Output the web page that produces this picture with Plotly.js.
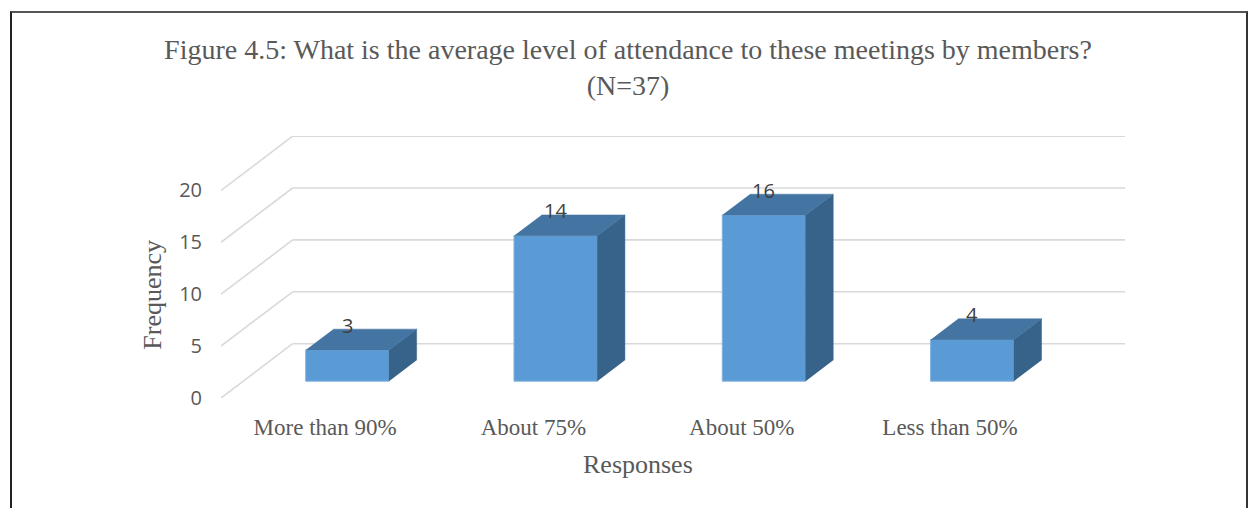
<!DOCTYPE html>
<html>
<head>
<meta charset="utf-8">
<script src="https://cdn.plot.ly/plotly-3.0.1.min.js"></script>
<style>
  html, body { margin: 0; padding: 0; background: #fff; }
  #wrap { position: relative; width: 1248px; height: 508px; overflow: hidden; }
  #chart { position: absolute; left: 0; top: 0; width: 1248px; height: 508px; }
  #frame {
    position: absolute; left: 10px; top: 11px; width: 1234px; height: 520px;
    border-top: 2px solid #555; border-left: 2px solid #222; border-right: 2px solid #333;
    pointer-events: none;
  }
</style>
</head>
<body>
<div id="wrap">
  <div id="chart"></div>
  <div id="frame"></div>
</div>
<script>
// Survey responses: average attendance at meetings (N=37)
const categories = ['More than 90%', 'About 75%', 'About 50%', 'Less than 50%'];
const frequency = [3, 14, 16, 4];
const yTicks = [0, 5, 10, 15, 20];

// Oblique "3-D" projection: a point at depth d (0 = front, 1 = back wall)
// is shifted by d*DX category units and d*DY value units.
const DX = 0.344;
const DY = 5.23;
const HALF = 0.2;            // half bar width, category units
const D0 = 0.31, D1 = 0.695; // bar front / back depth
const XMIN = -0.5, XMAX = categories.length - 0.5;

const serif = 'Liberation Serif, Times New Roman, serif';
const sans = 'Open Sans, Liberation Sans, sans-serif';
const grey = '#595959';

// walls: back-wall horizontals and left-wall diagonals at each tick, kept below the bars
const gridLine = { color: '#D9D9D9', width: 1.6 };
const shapes = [];
yTicks.forEach(t => {
  shapes.push({ type: 'line', xref: 'x', yref: 'y', layer: 'below', line: gridLine,
    x0: XMIN, y0: t, x1: XMIN + DX, y1: t + DY });
  shapes.push({ type: 'line', xref: 'x', yref: 'y', layer: 'below', line: gridLine,
    x0: XMIN + DX, y0: t + DY, x1: XMAX + DX, y1: t + DY });
});

// bar top and side faces
const topX = [], topY = [], sideX = [], sideY = [];
frequency.forEach((v, i) => {
  const l = i - HALF, r = i + HALF;
  topX.push(l + D0 * DX, r + D0 * DX, r + D1 * DX, l + D1 * DX, null);
  topY.push(v + D0 * DY, v + D0 * DY, v + D1 * DY, v + D1 * DY, null);
  sideX.push(r + D0 * DX, r + D0 * DX, r + D1 * DX, r + D1 * DX, null);
  sideY.push(D0 * DY, v + D0 * DY, v + D1 * DY, D1 * DY, null);
});

const idx = categories.map((c, i) => i);

const traces = [
  { type: 'bar', x: idx.map(i => i + D0 * DX), y: frequency,
    base: frequency.map(() => D0 * DY), width: 2 * HALF,
    marker: { color: '#5B9BD5', line: { color: '#7FB1E0', width: 1 } },
    showlegend: false, hoverinfo: 'skip' },
  { type: 'scatter', mode: 'lines', x: sideX, y: sideY, fill: 'toself',
    fillcolor: '#37628A', line: { color: '#37628A', width: 0.5 },
    showlegend: false, hoverinfo: 'skip' },
  { type: 'scatter', mode: 'lines', x: topX, y: topY, fill: 'toself',
    fillcolor: '#4474A1', line: { color: '#4474A1', width: 0.5 },
    showlegend: false, hoverinfo: 'skip' }
];

const annotations = frequency.map((v, i) => ({
  x: i + D0 * DX, y: v + D1 * DY, xref: 'x', yref: 'y',
  text: String(v), showarrow: false, yanchor: 'middle', yshift: 4,
  font: { family: sans, size: 20, color: '#404040' }
}));

annotations.push({
  x: (XMIN + XMAX) / 2, xref: 'x', y: -0.255, yref: 'paper',
  text: 'Responses', showarrow: false, yanchor: 'middle',
  font: { family: serif, size: 26, color: grey }
});
annotations.push({
  x: -0.0758, xref: 'paper', y: (yTicks[0] + yTicks[yTicks.length - 1]) / 2, yref: 'y',
  text: 'Frequency', showarrow: false, textangle: -90, xanchor: 'center', yanchor: 'middle',
  font: { family: serif, size: 26, color: grey }
});

const layout = {
  width: 1248, height: 508,
  margin: { l: 221, r: 123, t: 136, b: 110 },
  paper_bgcolor: '#fff', plot_bgcolor: 'rgba(0,0,0,0)',
  title: {
    text: 'Figure 4.5: What is the average level of attendance to these meetings by members?<br>(N=37)',
    x: 628 / 1248, xanchor: 'center', xref: 'container',
    y: 1 - 58.5 / 508, yanchor: 'middle', yref: 'container',
    font: { family: serif, size: 28, color: grey }
  },
  xaxis: {
    range: [XMIN, XMIN + 904 / 208.3], tickvals: idx, ticktext: categories,
    showgrid: false, zeroline: false, showline: false, ticks: '',
    ticklabelstandoff: 13, fixedrange: true,
    tickfont: { family: serif, size: 23, color: grey }
  },
  yaxis: {
    range: [0, 262 / 10.38], tickvals: yTicks,
    showgrid: false, zeroline: false, showline: false, ticks: '',
    ticklabelstandoff: 18, fixedrange: true,
    tickfont: { family: sans, size: 20, color: grey }
  },
  shapes: shapes,
  annotations: annotations,
  showlegend: false
};

Plotly.newPlot('chart', traces, layout, { displayModeBar: false, staticPlot: true });
</script>
</body>
</html>
